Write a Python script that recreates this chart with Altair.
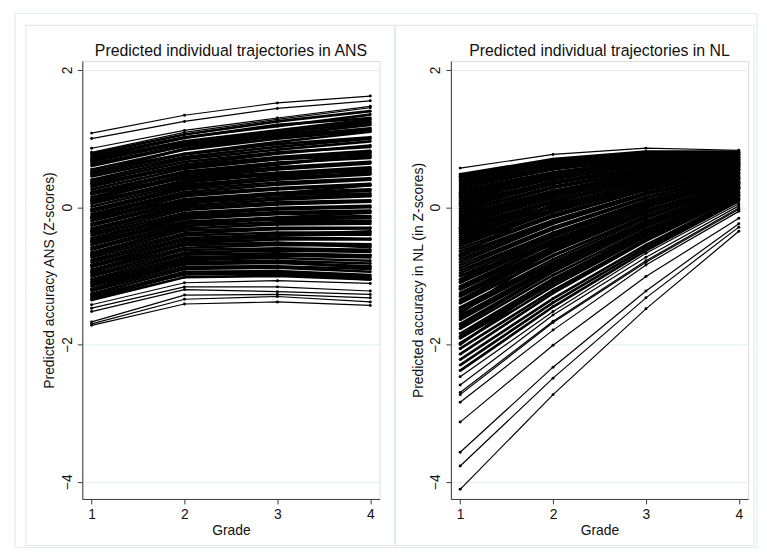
import altair as alt
import pandas as pd

# ---- ANS panel: predicted values at grades 1-4 for each child ----
# first 10 entries are the isolated extreme trajectories, the rest form the dense band
ans_g1 = [1.08, 1.00, 0.86, 0.80,
          -1.72, -1.70, -1.67, -1.52, -1.47, -1.42,
          0.78, 0.75, 0.72, 0.70, 0.66, 0.63, 0.60, 0.55, 0.52, 0.48, 0.45, 0.40, 0.37, 0.33, 0.30,
          0.26, 0.22, 0.19, 0.15, 0.12, 0.08, 0.05, 0.01, -0.03, -0.06, -0.10, -0.13, -0.17, -0.20,
          -0.24, -0.27, -0.31, -0.34, -0.38, -0.41, -0.45, -0.48, -0.52, -0.55, -0.59, -0.62, -0.66,
          -0.70, -0.73, -0.77, -0.80, -0.84, -0.87, -0.91, -0.94, -0.98, -1.01, -1.05, -1.08, -1.12,
          -1.15, -1.19, -1.22, -1.26, -1.30, -1.33,
          0.68, 0.50, 0.35, 0.10, -0.15, -0.35, -0.50, -0.68, -0.85, -0.95, -1.10, -1.20, -1.35,
          -1.28, 0.20, -0.05]
ans_g2 = [1.34, 1.25, 1.12, 1.09,
          -1.41, -1.34, -1.28, -1.20, -1.16, -1.10,
          1.06, 1.02, 1.01, 0.96, 0.95, 0.90, 0.89, 0.84, 0.78, 0.77, 0.73, 0.70, 0.66, 0.62, 0.60,
          0.56, 0.52, 0.50, 0.46, 0.43, 0.39, 0.36, 0.33, 0.29, 0.26, 0.22, 0.19, 0.16, 0.12,
          0.09, 0.06, 0.02, -0.01, -0.04, -0.08, -0.11, -0.14, -0.17, -0.21, -0.24, -0.27, -0.31,
          -0.34, -0.38, -0.41, -0.45, -0.48, -0.52, -0.55, -0.59, -0.62, -0.66, -0.69, -0.73, -0.76,
          -0.80, -0.83, -0.87, -0.90, -0.94, -0.97,
          0.93, 0.85, 0.58, 0.47, 0.10, 0.05, -0.22, -0.28, -0.55, -0.52, -0.80, -0.78, -1.02,
          -0.98, 0.42, 0.30]
ans_g3 = [1.52, 1.44, 1.30, 1.28,
          -1.38, -1.30, -1.27, -1.23, -1.16, -1.07,
          1.25, 1.18, 1.20, 1.12, 1.10, 1.08, 1.03, 1.00, 0.95, 0.92, 0.88, 0.84, 0.80, 0.78, 0.73,
          0.70, 0.65, 0.63, 0.58, 0.55, 0.50, 0.48, 0.43, 0.40, 0.36, 0.33, 0.28, 0.26, 0.21,
          0.18, 0.14, 0.11, 0.07, 0.04, -0.01, -0.03, -0.07, -0.10, -0.15, -0.17, -0.22, -0.25,
          -0.30, -0.32, -0.37, -0.40, -0.44, -0.47, -0.52, -0.55, -0.60, -0.63, -0.67, -0.70, -0.74,
          -0.78, -0.81, -0.86, -0.88, -0.93, -0.95,
          1.05, 1.05, 0.70, 0.62, 0.18, 0.20, -0.18, -0.15, -0.52, -0.40, -0.80, -0.70, -1.00,
          -0.97, 0.50, 0.45]
ans_g4 = [1.62, 1.55, 1.47, 1.45,
          -1.43, -1.38, -1.32, -1.27, -1.22, -1.11,
          1.40, 1.35, 1.30, 1.28, 1.22, 1.25, 1.15, 1.12, 1.10, 1.02, 1.00, 0.96, 0.88, 0.90, 0.82,
          0.80, 0.72, 0.74, 0.66, 0.64, 0.58, 0.55, 0.50, 0.48, 0.42, 0.40, 0.34, 0.32, 0.26,
          0.24, 0.18, 0.16, 0.10, 0.08, 0.02, 0.00, -0.05, -0.07, -0.13, -0.16, -0.21, -0.24,
          -0.30, -0.31, -0.37, -0.40, -0.46, -0.47, -0.54, -0.56, -0.62, -0.65, -0.70, -0.73, -0.78,
          -0.82, -0.86, -0.90, -0.94, -0.99, -1.02,
          1.12, 1.20, 0.75, 0.78, 0.20, 0.32, -0.20, -0.08, -0.58, -0.35, -0.88, -0.70, -1.05,
          -1.05, 0.52, 0.55]

# ---- NL panel: entry 0 is the top trajectory, entries 70-78 are the isolated low ones ----
nl_g1 = [0.57,
         0.48, 0.45, 0.43, 0.40, 0.37, 0.34, 0.31, 0.28, 0.25, 0.22, 0.19, 0.16, 0.13, 0.10, 0.07,
         0.04, 0.01, -0.02, -0.05, -0.08, -0.11, -0.14, -0.17, -0.20, -0.23, -0.26, -0.29, -0.32,
         -0.35, -0.38, -0.41, -0.44, -0.47, -0.50, -0.53, -0.56, -0.60, -0.64, -0.68, -0.72, -0.76,
         -0.80, -0.84, -0.88, -0.92, -0.96, -1.00, -1.05, -1.10, -1.15, -1.20, -1.25, -1.30, -1.35,
         -1.40, -1.46, -1.52, -1.58, -1.64, -1.70, -1.77, -1.84, -1.91, -1.98, -2.06, -2.14, -2.22,
         -2.30, -2.38,
         -2.47, -2.59, -2.70, -2.73, -2.84, -3.13, -3.57, -3.77, -4.11,
         0.05, -0.70, -1.55, -2.00, -0.30, -1.00,
         -1.08, -1.18, -1.28, -1.38, -1.49, -1.61, -1.73, -1.88]
nl_g2 = [0.77,
         0.70, 0.68, 0.67, 0.64, 0.62, 0.59, 0.58, 0.55, 0.51, 0.50, 0.48, 0.47, 0.44, 0.41, 0.37,
         0.37, 0.35, 0.34, 0.30, 0.28, 0.24, 0.23, 0.21, 0.20, 0.17, 0.14, 0.10, 0.10,
         0.08, 0.07, 0.03, 0.01, -0.03, -0.04, -0.06, -0.07, -0.11, -0.14, -0.19, -0.20, -0.23,
         -0.24, -0.29, -0.32, -0.37, -0.38, -0.41, -0.43, -0.49, -0.52, -0.58, -0.60, -0.64, -0.65,
         -0.71, -0.76, -0.82, -0.85, -0.89, -0.92, -0.99, -1.04, -1.11, -1.15, -1.21, -1.25, -1.33,
         -1.39, -1.45,
         -1.52, -1.57, -1.66, -1.68, -1.79, -2.01, -2.33, -2.49, -2.73,
         0.50, 0.05, -0.60, -1.05, 0.00, -0.55,
         -0.47, -0.53, -0.62, -0.70, -0.80, -0.87, -0.94, -1.07]
nl_g3 = [0.86,
         0.81, 0.79, 0.77, 0.77, 0.75, 0.74, 0.73, 0.71, 0.67, 0.68, 0.66, 0.66, 0.63, 0.62, 0.58,
         0.59, 0.57, 0.57, 0.54, 0.53, 0.50, 0.50, 0.48, 0.48, 0.45, 0.44, 0.40, 0.41,
         0.39, 0.39, 0.36, 0.35, 0.31, 0.32, 0.30, 0.30, 0.27, 0.25, 0.21, 0.21, 0.19,
         0.19, 0.15, 0.13, 0.09, 0.09, 0.07, 0.06, 0.02, -0.01, -0.05, -0.06, -0.08, -0.09,
         -0.13, -0.16, -0.21, -0.22, -0.25, -0.27, -0.32, -0.36, -0.41, -0.43, -0.47, -0.49, -0.55,
         -0.59, -0.63,
         -0.67, -0.73, -0.78, -0.80, -0.84, -1.01, -1.22, -1.32, -1.48,
         0.70, 0.45, -0.05, -0.35, 0.30, -0.05,
         0.03, 0.00, -0.07, -0.13, -0.20, -0.24, -0.28, -0.38]
nl_g4 = [0.83,
         0.81, 0.80, 0.80, 0.79, 0.76, 0.77, 0.78, 0.76, 0.73, 0.74, 0.73, 0.75, 0.72, 0.71, 0.68,
         0.70, 0.69, 0.70, 0.67, 0.67, 0.64, 0.65, 0.64, 0.66, 0.63, 0.62, 0.59, 0.61,
         0.60, 0.61, 0.58, 0.58, 0.55, 0.56, 0.55, 0.56, 0.54, 0.53, 0.49, 0.50, 0.49,
         0.50, 0.47, 0.46, 0.43, 0.44, 0.43, 0.44, 0.41, 0.40, 0.36, 0.37, 0.36, 0.37,
         0.33, 0.32, 0.28, 0.29, 0.27, 0.27, 0.24, 0.22, 0.18, 0.19, 0.17, 0.16, 0.13,
         0.11, 0.09,
         0.05, 0.02, -0.01, -0.03, -0.06, -0.16, -0.24, -0.29, -0.35,
         0.78, 0.62, 0.35, 0.12, 0.50, 0.30,
         0.41, 0.40, 0.36, 0.34, 0.29, 0.28, 0.27, 0.21]

grades = [1, 2, 3, 4]
ans_isolated = list(range(0, 10))
nl_isolated = [0] + list(range(70, 79))


def long_table(cols, isolated):
    rows = []
    for i in range(len(cols[0])):
        for g, col in zip(grades, cols):
            rows.append({"id": i, "grade": g, "value": col[i],
                         "iso": 1 if i in isolated else 0})
    return pd.DataFrame(rows)


ans_df = long_table([ans_g1, ans_g2, ans_g3, ans_g4], ans_isolated)
nl_df = long_table([nl_g1, nl_g2, nl_g3, nl_g4], nl_isolated)

FONT = "Liberation Sans"
FRAME = "#e3ebf0"
AXIS = "#3a3a3a"
one = pd.DataFrame({"k": [0]})
W, H = 300, 442


def panel(df, title, ytitle, frames):
    xs = alt.Scale(domain=[0.9, 4.1], nice=False, zero=False)
    ys = alt.Scale(domain=[-4.25, 2.13], nice=False, zero=False)
    xa = alt.Axis(values=grades, grid=False, title="Grade", labelFontSize=14, titleFontSize=14,
                  titleFontWeight="normal", labelPadding=4, tickSize=5, titlePadding=2,
                  domainColor=AXIS, tickColor=AXIS, labelColor="#111", titleColor="#111",
                  labelFont=FONT, titleFont=FONT, format="d")
    ya = alt.Axis(values=[-4, -2, 0, 2], grid=True, gridColor="#e2eef0", title=ytitle,
                  labelFontSize=14, titleFontSize=14, titleFontWeight="normal", labelAngle=270,
                  labelAlign="center", labelBaseline="bottom", labelPadding=3, tickSize=5,
                  titlePadding=4, domainColor=AXIS, tickColor=AXIS, labelColor="#111",
                  titleColor="#111", labelFont=FONT, titleFont=FONT, format="d")
    layers = []
    for (x1, x2, y1, y2) in frames:
        layers.append(
            alt.Chart(one).mark_rect(fillOpacity=0, stroke=FRAME, strokeWidth=1.2).encode(
                x=alt.value(x1), x2=alt.value(x2), y=alt.value(y1), y2=alt.value(y2)))
    layers.append(
        alt.Chart(pd.DataFrame({"t": [title]})).mark_text(
            font=FONT, fontSize=16, color="#111", align="center", baseline="alphabetic").encode(
            text="t:N", x=alt.value(W / 2), y=alt.value(-5)))
    base = alt.Chart(df)
    dense = base.transform_filter("datum.iso == 0").mark_line(
        color="black", strokeWidth=2.7).encode(
        x=alt.X("grade:Q", scale=xs, axis=xa),
        y=alt.Y("value:Q", scale=ys, axis=ya),
        detail="id:N")
    sparse = base.transform_filter("datum.iso == 1").mark_line(
        color="black", strokeWidth=1.2).encode(
        x=alt.X("grade:Q", scale=xs), y=alt.Y("value:Q", scale=ys), detail="id:N")
    pts = base.mark_circle(color="black", size=9, opacity=1).encode(
        x=alt.X("grade:Q", scale=xs), y=alt.Y("value:Q", scale=ys))
    layers += [dense, sparse, pts]
    return alt.layer(*layers).properties(width=W, height=H)


left = panel(ans_df, "Predicted individual trajectories in ANS",
             "Predicted accuracy ANS (Z-scores)",
             [(-68, 681, -48, 491), (-57, 315, -36, 489)])
right = panel(nl_df, "Predicted individual trajectories in NL",
              "Predicted accuracy in NL (in Z-scores)",
              [(-56, 306, -36, 489)])

chart = alt.hconcat(left, right, spacing=72, bounds="flush").properties(
    padding={"left": 5, "top": 1, "right": 0, "bottom": 0}
).configure_view(stroke=None).configure(background="white")

chart.save("out.html", embed_options={"renderer": "svg", "actions": False})
